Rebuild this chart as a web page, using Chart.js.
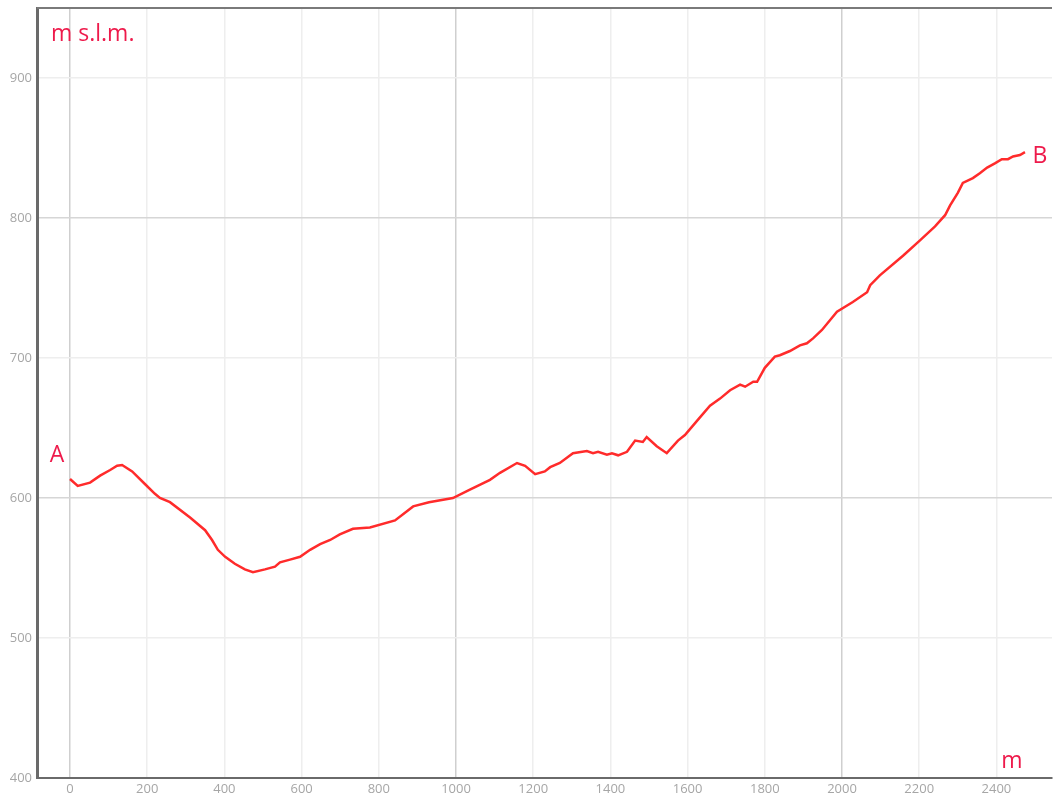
<!DOCTYPE html>
<html>
<head>
<meta charset="utf-8">
<script src="https://cdn.jsdelivr.net/npm/chart.js@4"></script>
<style>
  html, body { margin: 0; padding: 0; background: #fff; }
  #wrap { width: 1054px; height: 801px; position: relative; }
</style>
</head>
<body>
<div id="wrap"><canvas id="profile"></canvas></div>
<script>
// distance along the route (m) and height (m s.l.m.)
const distances = [0, 20, 52, 78, 104, 122, 135, 161, 194, 220, 233, 259, 311, 350, 368, 383, 402, 427, 453, 474,
  505, 531, 544, 570, 596, 622, 648, 674, 699, 733, 777, 842, 889, 930, 992, 1036, 1088, 1114, 1158, 1179,
  1205, 1230, 1244, 1269, 1303, 1339, 1355, 1368, 1391, 1404, 1420, 1443, 1464, 1484, 1494, 1520, 1546, 1575, 1593, 1627,
  1658, 1684, 1710, 1736, 1749, 1770, 1780, 1800, 1826, 1839, 1865, 1891, 1909, 1925, 1948, 1987, 2028, 2065, 2073, 2098,
  2158, 2202, 2241, 2267, 2280, 2300, 2313, 2339, 2357, 2376, 2396, 2414, 2430, 2443, 2461, 2474]
const heights = [613.6, 608.6, 611, 616, 620, 623, 623.6, 619, 610, 603, 600, 597, 586, 577, 570, 563, 558, 553, 549, 547,
  549, 551, 554, 556, 558, 563, 567, 570, 574, 578, 579, 584, 594, 597, 600, 606, 613, 618, 625, 623,
  617, 619, 622, 625, 632, 633.5, 632, 633, 631, 632, 630.5, 633, 641, 640, 643.5, 637, 632, 641, 645, 656,
  666, 671, 677, 681, 679.5, 683, 683, 693, 701, 702, 705, 709, 710.5, 714, 720, 733, 740, 747, 752, 759,
  773, 784, 794, 802, 809, 818, 825, 828.5, 832, 836, 839, 842, 842, 844, 845, 847]

const xTicks = [0, 200, 400, 600, 800, 1000, 1200, 1400, 1600, 1800, 2000, 2200, 2400]
const yTicks = [400, 500, 600, 700, 800, 900]

const startLabel = 'A'
const endLabel = 'B'
const yTitle = 'm s.l.m.'
const xTitle = 'm'

const labelColor = '#ee1a4b'
const font = '"Open Sans", "DejaVu Sans", sans-serif'

// texts and the top frame line
const extras = {
  id: 'extras',
  afterDraw(chart) {
    const c = chart.ctx
    const a = chart.chartArea
    const xs = chart.scales.x
    const ys = chart.scales.y
    c.save()
    c.strokeStyle = '#7a7a7a'
    c.lineWidth = 2
    c.beginPath()
    c.moveTo(a.left, a.top)
    c.lineTo(a.right, a.top)
    c.stroke()

    c.fillStyle = labelColor
    c.font = '23px ' + font
    c.textBaseline = 'middle'
    c.textAlign = 'left'
    c.fillText(yTitle, a.left + 14, a.top + 26)
    c.textAlign = 'center'
    c.fillText(xTitle, a.right - 40, a.bottom - 17)

    const n = distances.length - 1
    c.fillText(startLabel, xs.getPixelForValue(distances[0]) - 13, ys.getPixelForValue(heights[0]) - 24)
    c.fillText(endLabel, xs.getPixelForValue(distances[n]) + 15, ys.getPixelForValue(heights[n]) + 4)
    c.restore()
  }
}

const ctx = document.getElementById('profile')

new Chart(ctx, {
  type: 'line',
  data: {
    datasets: [{
      label: 'profilo',
      data: distances.map((d, i) => ({ x: d, y: heights[i] })),
      borderColor: '#ff2b2b',
      borderWidth: 2.5,
      pointRadius: 0,
      tension: 0,
      fill: false
    }]
  },
  options: {
    responsive: true,
    maintainAspectRatio: false,
    animation: false,
    layout: { padding: { top: 8, right: 2, left: 0, bottom: 0 } },
    plugins: { legend: { display: false }, tooltip: { enabled: false } },
    scales: {
      x: {
        type: 'linear',
        min: -85.5,
        max: 2544,
        afterBuildTicks: s => { s.ticks = xTicks.map(v => ({ value: v })) },
        afterFit: s => { s.height = 23; s.paddingLeft = 0; s.paddingRight = 0 },
        grid: {
          drawTicks: false,
          color: t => (t.tick && t.tick.value % 1000 === 0) ? '#cfcfcf' : '#eeeeee',
          lineWidth: 1.5
        },
        border: { color: '#6a6a6a', width: 2 },
        ticks: {
          color: '#a6a6a6', padding: 3, font: { family: font, size: 13 }, maxRotation: 0,
          callback: v => String(v)
        }
      },
      y: {
        min: 400,
        max: 950,
        afterBuildTicks: s => { s.ticks = yTicks.map(v => ({ value: v })) },
        afterFit: s => { s.width = 37; s.paddingTop = 0; s.paddingBottom = 0 },
        grid: {
          drawTicks: false,
          color: t => (t.tick && t.tick.value % 200 === 0) ? '#d6d6d6' : '#eeeeee',
          lineWidth: 1.5
        },
        border: { color: '#6a6a6a', width: 3 },
        ticks: { color: '#a6a6a6', padding: 5, font: { family: font, size: 13 }, callback: v => String(v) }
      }
    }
  },
  plugins: [extras]
})
</script>
</body>
</html>
